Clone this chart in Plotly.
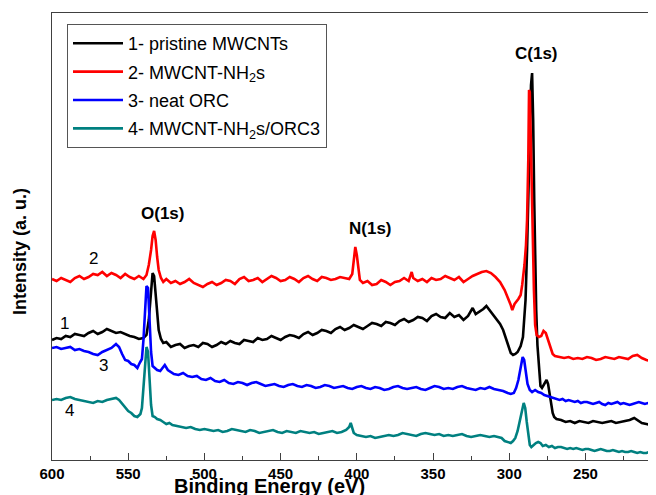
import plotly.graph_objects as go

# ---------------- data ----------------
names = ["1- pristine MWCNTs", "2- MWCNT-NH<sub>2</sub>s", "3- neat ORC", "4- MWCNT-NH<sub>2</sub>s/ORC3"]
colors = ["#000000", "#ff0000", "#0000ff", "#008080"]

e_black = [600, 597, 594, 591, 588, 585, 582, 579, 576, 573, 570, 567, 564, 561, 558, 555, 552, 549, 546, 543, 540, 538,
           536.5, 535, 534, 533, 532, 531, 530, 528.5, 527, 525, 522, 519, 516, 513, 510, 507, 504, 501, 498, 495, 492,
           489, 486, 483, 480, 477, 474, 471, 468, 465, 462, 459, 456, 453, 450, 447, 444, 441, 438, 435, 432, 429, 426,
           423, 420, 417, 414, 411, 408, 405, 402, 399, 396, 393, 390, 387, 384, 381, 378, 375, 372, 369, 366, 363, 360,
           357, 354, 351, 348, 345, 342, 339, 336, 333, 330, 327, 324, 322, 320, 317, 315, 313, 311, 309, 306, 304, 302,
           300.5, 299, 297.5, 296, 294.5, 292.5, 291, 290, 289.3, 288.3, 287.5, 286.5, 285.7, 285, 284.3, 283.6, 283,
           282.3, 281.5, 280.5, 279.5, 278.5, 277, 275.5, 274.5, 273.5, 272.5, 271.5, 270.5, 269, 266, 263, 260, 257,
           254, 251, 248, 245, 242, 239, 236, 233, 230, 227, 224, 221, 218, 216, 213, 210, 207, 204]
i_black = [120, 122, 121, 124, 123, 126, 125, 124, 127, 129, 126, 128, 131, 129, 127, 128, 126, 124, 123, 121, 122, 125,
           140, 165, 187, 184, 165, 145, 130, 121, 117, 118,
           113, 115, 116, 112, 114, 115, 113, 117, 116, 113, 115, 118, 116, 119, 117, 116, 120, 119, 118, 122,
           120, 121, 124, 122, 120, 123, 125, 124, 122, 126, 128, 125, 127, 130, 129, 127, 131, 133, 130, 132,
           135, 133, 131, 134, 137, 136, 134, 138, 137, 135, 139, 141, 138, 140, 143, 142, 139, 144, 146, 143,
           142, 147, 143, 145, 140, 144, 152, 146, 148, 151, 154, 150, 147, 143, 136, 130, 120,
           112, 107, 105, 106, 108, 114, 123, 140, 160, 210, 260, 330, 375, 387, 340, 260, 200,
           150, 115, 90, 74, 72, 76, 80, 76, 65, 55, 47, 43, 41, 40, 38, 39, 37,
           39, 38, 37, 39, 38, 37, 38, 39, 37, 38, 39, 40, 42, 40, 37, 36, 35, 34]

e_red = [600, 597, 594, 591, 588, 585, 582, 579, 576, 573, 570, 567, 564, 561, 558, 555, 552, 549, 546, 543, 540, 538,
         536.5, 535, 534, 533, 532, 531, 530, 528.5, 527, 525, 522, 519, 516, 513, 510, 507, 504, 501, 498, 495, 492,
         489, 486, 483, 480, 477, 474, 471, 468, 465, 462, 459, 456, 453, 450, 447, 444, 441, 438, 435, 432, 429, 426,
         423, 420, 417, 414, 411, 408, 405, 403, 402, 401, 400, 399, 398, 396, 393, 390, 387, 384, 381, 378, 375, 372,
         369, 366, 364, 363, 360, 357, 354, 351, 348, 345, 342, 339, 336, 333, 330, 327, 324, 321, 318, 315, 312, 309,
         306, 303, 301, 299, 298, 296.5, 294, 292.5, 291.5, 290, 289, 288.3, 287.5, 287, 286.5, 286, 285.3, 284.5,
         283.8, 283, 282, 280.5, 279, 277.5, 276, 274.5, 273, 271.5, 270, 267, 264, 261, 258, 255, 252, 249, 246, 243,
         240, 237, 234, 231, 228, 225, 222, 219, 216, 213, 210, 207, 204]
i_red = [181, 179, 182, 180, 178, 182, 184, 181, 183, 186, 185, 188, 184, 187, 185, 182, 186, 183, 181, 184, 181, 185,
         195, 210, 224, 229, 220, 203, 190, 182, 178, 181,
         177, 179, 176, 178, 181, 177, 175, 173, 176, 178, 175, 177, 180, 179, 176, 181, 183, 179, 180, 182,
         178, 181, 184, 182, 179, 180, 183, 181, 178, 182, 184, 181, 179, 183, 182, 180, 181, 183, 182, 181,
         186, 200, 213, 205, 189, 180,
         177, 179, 175, 176, 180, 178, 175, 178, 179, 182, 179, 188, 182,
         179, 181, 178, 182, 180, 181, 184, 182, 180, 183, 178, 181, 184, 186, 188, 189, 187, 183, 178, 170,
         163, 155, 150, 156, 161, 165, 175, 195, 215, 240, 300, 370, 368, 330, 270, 220,
         170, 135, 125, 123, 124, 129, 127, 120, 112, 106, 104,
         103, 102, 103, 101, 102, 101, 103, 102, 100, 101, 103, 102, 101, 103, 102, 101, 104, 105, 102, 100, 99, 100]

e_blue = [600, 597, 594, 591, 588, 585, 582, 579, 576, 573, 570, 567, 564, 561, 558, 556, 554, 552, 550, 548, 546, 544,
          542.5, 541, 540, 539, 538, 537, 536, 535, 534, 532.5, 531, 529, 527, 526, 524, 522, 520, 517, 514, 511, 508,
          505, 502, 499, 496, 493, 490, 487, 484, 481, 478, 475, 472, 469, 466, 463, 460, 457, 454, 451, 448, 445, 442,
          439, 436, 433, 430, 427, 424, 421, 418, 415, 412, 409, 406, 403, 400, 397, 394, 391, 388, 385, 382, 379, 376,
          373, 370, 367, 364, 361, 358, 355, 352, 349, 346, 343, 340, 337, 334, 331, 328, 325, 322, 319, 316, 313, 310,
          307, 304, 301, 299, 297, 295.5, 294, 292.5, 291.2, 290.2, 289.2, 288, 286.5, 285, 283, 281, 279, 277, 275,
          273, 271, 269, 267, 265, 263, 261, 259, 257, 255, 253, 251, 249, 247, 245, 243, 241, 239, 237, 235, 233, 231,
          229, 227, 225, 223, 221, 219, 217, 215, 213, 211, 209, 207, 204]
i_blue = [112, 113, 111, 112, 113, 110, 111, 109, 108, 106, 105, 108, 110, 112, 116, 113, 106, 100, 99, 96, 95, 92,
          97, 101, 120, 152, 174, 172, 140, 108, 94, 92, 90, 89, 93, 95, 90, 88,
          86, 85, 87, 84, 83, 84, 81, 80, 82, 79, 78, 80, 77, 76, 78, 77, 75, 77, 78, 76,
          74, 75, 76, 74, 73, 75, 76, 74, 73, 75, 74, 72, 73, 75, 74, 72, 73, 74, 72, 71,
          73, 74, 72, 71, 73, 72, 70, 71, 73, 74, 72, 71, 72, 73, 71, 70, 72, 74, 73, 71,
          72, 71, 73, 74, 72, 71, 70, 72, 71, 73, 71, 70, 69,
          67, 66, 67, 72, 80, 93, 103, 100, 88, 76, 70, 68,
          70, 68, 67, 65, 64, 63, 62, 61, 60, 61, 59, 60, 59, 58, 59, 57, 58, 58, 57, 56,
          57, 58, 56, 55, 57, 56, 57, 58, 56, 57, 56, 55, 56, 57, 58, 57, 56, 57, 56, 57]

e_teal = [600, 597, 594, 591, 588, 585, 582, 579, 576, 573, 570, 567, 564, 561, 558, 556, 554, 552, 550, 548, 546, 544,
          542, 541, 540, 539, 538, 537, 536, 535, 534, 532.5, 531, 529, 527, 525, 523, 521, 518, 515, 512, 509, 506,
          503, 500, 497, 494, 491, 488, 485, 482, 479, 476, 473, 470, 467, 464, 461, 458, 455, 452, 449, 446, 443, 440,
          437, 434, 431, 428, 425, 422, 419, 416, 413, 410, 407, 405, 404, 403, 402, 400, 397, 394, 391, 388, 385, 382,
          379, 376, 373, 370, 367, 364, 361, 358, 355, 352, 349, 346, 343, 340, 337, 334, 331, 328, 325, 322, 319, 316,
          313, 310, 307, 305, 303, 301, 299, 297.5, 296, 294.5, 293, 291.5, 290.5, 289.5, 288.5, 287.5, 286.5, 285.5,
          284, 282.5, 281, 279.5, 278, 276, 274, 272, 270, 268, 266, 264, 262, 260, 258, 256, 254, 252, 250, 248, 246,
          244, 242, 240, 238, 236, 234, 232, 230, 228, 226, 224, 222, 220, 218, 216, 214, 212, 210, 208, 206, 204]
i_teal = [60, 61, 60, 62, 63, 61, 60, 59, 58, 57, 59, 58, 60, 61, 62, 60, 56, 52, 49, 47, 44, 43,
          46, 52, 70, 95, 113, 108, 82, 55, 44, 43, 41, 40, 38, 36, 37,
          35, 34, 33, 32, 33, 31, 30, 31, 30, 29, 30, 28, 29, 31, 30, 29, 28, 30, 29, 27,
          28, 29, 30, 28, 27, 29, 28, 27, 29, 28, 27, 28, 26, 27, 28, 29, 27, 28, 30,
          33, 37, 32, 27,
          25, 24, 23, 24, 22, 23, 24, 25, 24, 25, 27, 26, 25, 24, 26, 27, 26, 25, 26, 24,
          25, 24, 25, 26, 24, 23, 24, 25, 24, 23, 24, 23,
          22, 19, 18, 17, 19, 22, 29, 38, 50, 57, 52, 38, 24, 15, 13,
          15, 17, 18, 17, 14, 15, 13, 14,
          12, 13, 13, 12, 11, 12, 11, 12, 11, 10, 11, 11, 10, 9, 10, 11, 10, 9, 9, 10,
          9, 8, 9, 8, 8, 9, 8, 7, 8, 7, 7, 8, 7, 7]

x_ticks = [600, 550, 500, 450, 400, 350, 300, 250]
x_range = [600, 203.7]
y_range = [0, 447]

peak_labels = ["C(1s)", "O(1s)", "N(1s)"]
peak_label_x = [281.8, 527.2, 391.3]
peak_label_y = [407, 247, 232]

curve_labels = ["1", "2", "3", "4"]
curve_label_x = [591.5, 573.1, 566.5, 588.8]
curve_label_y = [137, 202, 95, 50]

series = [(e_black, i_black), (e_red, i_red), (e_blue, i_blue), (e_teal, i_teal)]
for ex, iy in series:
    assert len(ex) == len(iy), (len(ex), len(iy))

# ---------------- figure ----------------
FONT_NARROW = "Liberation Sans Narrow, Arial Narrow, Arial, Liberation Sans, sans-serif"
FONT_REG = "Arial, Liberation Sans, sans-serif"
AX = "#404040"

fig = go.Figure()
for k, (ex, iy) in enumerate(series):
    fig.add_trace(go.Scatter(
        x=ex, y=iy, mode="lines", name=names[k], legendgroup=str(k),
        line=dict(color=colors[k], width=2.6),
    ))

for t, x, y in zip(peak_labels, peak_label_x, peak_label_y):
    fig.add_annotation(x=x, y=y, text="<b>" + t + "</b>", showarrow=False,
                       xanchor="center", yanchor="middle",
                       font=dict(family=FONT_REG, size=17, color="black"))
for t, x, y in zip(curve_labels, curve_label_x, curve_label_y):
    fig.add_annotation(x=x, y=y, text=t, showarrow=False,
                       xanchor="center", yanchor="middle",
                       font=dict(family=FONT_REG, size=17, color="black"))

fig.add_annotation(xref="paper", yref="paper", x=(269 - 52) / 604, y=(460 - 486) / 447,
                   xanchor="center", yanchor="middle",
                   text="<b>Binding Energy (eV)</b>", showarrow=False,
                   font=dict(family=FONT_REG, size=20, color="black"))
fig.add_annotation(xref="paper", yref="paper", x=(20 - 52) / 604, y=(460 - 252) / 447,
                   xanchor="center", yanchor="middle",
                   text="<b>Intensity (a. u.)</b>", showarrow=False, textangle=-90,
                   font=dict(family=FONT_REG, size=18, color="black"))

# the page body adds an 8px offset, so the figure is 8px smaller and margins are shifted
fig.update_layout(
    width=648, height=487,
    margin=dict(l=44, r=0, t=5, b=35),
    paper_bgcolor="white", plot_bgcolor="white",
    showlegend=True,
    legend=dict(x=(67 - 52) / 604, y=(460 - 24) / 447, xanchor="left", yanchor="top",
                bordercolor="#555555", borderwidth=1, bgcolor="white",
                font=dict(family=FONT_REG, size=18, color="black"),
                itemwidth=50, traceorder="grouped", tracegroupgap=2),
    xaxis=dict(range=x_range, tickvals=x_ticks, ticks="inside", ticklen=7, tickwidth=1, tickcolor=AX,
               showline=True, linecolor=AX, linewidth=1, mirror=True, showgrid=False, zeroline=False,
               tickfont=dict(family=FONT_NARROW, size=15, color="black", weight="bold"),
               minor=dict(ticks="inside", ticklen=4, dtick=25, tickcolor=AX, showgrid=False)),
    yaxis=dict(range=y_range, showticklabels=False, ticks="", showline=True, linecolor=AX, linewidth=1,
               showgrid=False, zeroline=False),
)

fig.write_html("out.html")
